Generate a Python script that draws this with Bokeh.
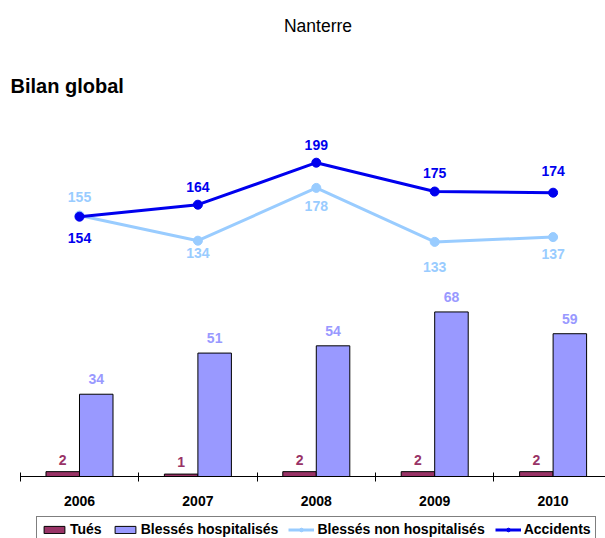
from bokeh.plotting import figure
from bokeh.models import (Range1d, FixedTicker, Legend, LegendItem,
                          Label, ColumnDataSource)
from bokeh.transform import dodge
from bokeh.core.properties import value
from bokeh.embed import file_html
from bokeh.resources import INLINE

# ---- data ----
years = ["2006", "2007", "2008", "2009", "2010"]
tues = [2, 1, 2, 2, 2]
blesses_hosp = [34, 51, 54, 68, 59]
blesses_non_hosp = [155, 134, 178, 133, 137]
accidents = [154, 164, 199, 175, 174]

# label pixel offsets (style only)
acc_dy = [21, -18, -18, -19, -22]
bnh_dy = [-19, 12, 18, 25, 17]

FONT = "Liberation Sans"
C_TUES = "#993366"
C_BH = "#9999FF"
C_BNH = "#99CCFF"
C_ACC = "#0000EE"

W, H = 605, 538
idx = list(range(len(years)))
src = ColumnDataSource(dict(
    x=idx, tues=tues, bh=blesses_hosp, bnh=blesses_non_hosp, acc=accidents,
    tues_t=[str(v) for v in tues], bh_t=[str(v) for v in blesses_hosp],
    bnh_t=[str(v) for v in blesses_non_hosp], acc_t=[str(v) for v in accidents],
    acc_dy=acc_dy, bnh_dy=bnh_dy,
))

p = figure(width=W, height=H, output_backend="svg", toolbar_location=None,
           x_range=Range1d(-0.6672, 4.4426), y_range=Range1d(-25.62, 196.7),
           y_axis_location=None, min_border_left=0, min_border_right=0,
           min_border_top=0, min_border_bottom=0)
p.extra_y_ranges = {"lines": Range1d(-114.17, 334.17)}
p.outline_line_color = None
p.xgrid.visible = False
p.ygrid.visible = False
p.background_fill_color = "white"

bw = 0.283
r_tues = p.vbar(x=dodge("x", -bw / 2, range=p.x_range), top="tues", width=bw, source=src,
                fill_color=C_TUES, line_color="black", line_width=1)
r_bh = p.vbar(x=dodge("x", bw / 2, range=p.x_range), top="bh", width=bw, source=src,
              fill_color=C_BH, line_color="black", line_width=1)

r_bnh_l = p.line("x", "bnh", source=src, y_range_name="lines", line_color=C_BNH, line_width=3)
r_bnh_c = p.scatter("x", "bnh", source=src, y_range_name="lines", size=9,
                    fill_color=C_BNH, line_color=C_BNH)
r_acc_l = p.line("x", "acc", source=src, y_range_name="lines", line_color=C_ACC, line_width=3)
r_acc_c = p.scatter("x", "acc", source=src, y_range_name="lines", size=9,
                    fill_color=C_ACC, line_color=C_ACC)

common = dict(text_font=value(FONT), text_font_size="14px", text_font_style="bold",
              text_align="center", text_baseline="middle", source=src)
p.text(x=dodge("x", -bw / 2, range=p.x_range), y="tues", text="tues_t",
       text_color=C_TUES, y_offset=-12, **common)
p.text(x=dodge("x", bw / 2, range=p.x_range), y="bh", text="bh_t",
       text_color=C_BH, y_offset=-15, **common)
p.text(x="x", y="bnh", text="bnh_t", text_color=C_BNH, y_offset="bnh_dy",
       y_range_name="lines", **common)
p.text(x="x", y="acc", text="acc_t", text_color=C_ACC, y_offset="acc_dy",
       y_range_name="lines", **common)

ax = p.xaxis[0]
ax.fixed_location = 0
ax.bounds = (-0.5, 4.4426)
ax.ticker = FixedTicker(ticks=idx, minor_ticks=[i - 0.5 for i in idx])
ax.major_label_overrides = {i: y for i, y in zip(idx, years)}
ax.major_tick_line_color = None
ax.major_tick_in = 0
ax.major_tick_out = 0
ax.minor_tick_in = 4
ax.minor_tick_out = 5
ax.minor_tick_line_color = "black"
ax.axis_line_color = "black"
ax.major_label_standoff = 14
ax.major_label_text_font = FONT
ax.major_label_text_font_size = "14px"
ax.major_label_text_font_style = "bold"
ax.major_label_text_color = "black"

legend = Legend(items=[
    LegendItem(label="Tués", renderers=[r_tues]),
    LegendItem(label="Blessés hospitalisés", renderers=[r_bh]),
    LegendItem(label="Blessés non hospitalisés", renderers=[r_bnh_l, r_bnh_c]),
    LegendItem(label="Accidents", renderers=[r_acc_l, r_acc_c]),
], orientation="horizontal", location=(36, -4))
legend.label_text_font = FONT
legend.label_text_font_size = "14px"
legend.label_text_font_style = "bold"
legend.label_text_color = "black"
legend.glyph_width = 26
legend.glyph_height = 9
legend.label_standoff = 3
legend.spacing = 10
legend.padding = 4
legend.margin = 0
legend.border_line_color = "black"
legend.border_line_width = 1
legend.label_height = 14
legend.background_fill_alpha = 1
p.add_layout(legend, "center")

p.add_layout(Label(text="Nanterre", x=317.5, y=H - 25.7, x_units="screen", y_units="screen",
                   text_align="center", text_baseline="alphabetic", text_font=FONT,
                   text_font_size="17.5px", text_color="black"))
p.add_layout(Label(text="Bilan global", x=10, y=H - 85, x_units="screen", y_units="screen",
                   text_align="left", text_baseline="alphabetic", text_font=FONT,
                   text_font_size="20px", text_font_style="bold", text_color="black"))

open("out.html", "w").write(file_html(p, INLINE))
